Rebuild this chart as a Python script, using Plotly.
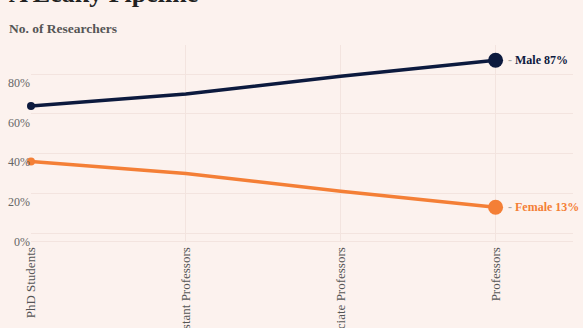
import plotly.graph_objects as go

categories = ["PhD Students", "Assistant Professors", "Associate Professors", "Professors"]
male = [64, 70, 79, 87]
female = [36, 30, 21, 13]
y_ticks = [0, 20, 40, 60, 80]
y_ticktext = [f"{v}%" for v in y_ticks]

BG = "#fcf2ee"
NAVY = "#0c1a3e"
ORANGE = "#f47f36"
FONT = "Liberation Serif"

x_idx = list(range(len(categories)))

fig = go.Figure()
for vals, col, name in [(male, NAVY, "Male"), (female, ORANGE, "Female")]:
    sizes = [8] + [0] * (len(vals) - 2) + [15]
    fig.add_trace(go.Scatter(
        x=x_idx, y=vals, mode="lines+markers", name=name,
        line=dict(color=col, width=3.5),
        marker=dict(size=sizes, color=col, opacity=1, line=dict(width=0)),
        cliponaxis=False,
        showlegend=False, hoverinfo="skip",
    ))
    fig.add_annotation(
        x=x_idx[-1], y=vals[-1], xref="x", yref="y",
        text=f"<span style='color:#aaaaaa'>-</span> {name} {vals[-1]}%",
        showarrow=False, xanchor="left", yanchor="middle", xshift=10,
        font=dict(family=FONT, size=12, color=col, weight="bold"),
    )

fig.add_annotation(
    x=0, y=1, xref="paper", yref="paper", xanchor="left", yanchor="bottom",
    text="<b>A Leaky Pipeline</b>", showarrow=False, xshift=-24, yshift=35,
    font=dict(family=FONT, size=26, color="#222222"),
)
fig.add_annotation(
    x=0, y=1, xref="paper", yref="paper", xanchor="left", yanchor="bottom",
    text="<b>No. of Researchers</b>", showarrow=False, xshift=-24, yshift=7,
    font=dict(family=FONT, size=13.5, color="#555555"),
)

fig.update_layout(
    width=583, height=328,
    margin=dict(l=31, r=10, t=45, b=87),
    paper_bgcolor=BG, plot_bgcolor=BG,
    xaxis=dict(
        tickmode="array", tickvals=x_idx, ticktext=categories,
        range=[0, 3.5], tickangle=-90, showgrid=True,
        gridcolor="#f3e4df", zeroline=False, showline=True, linecolor="#f3e4df",
        tickfont=dict(family=FONT, size=13, color="#555555"),
        automargin=False,
    ),
    yaxis=dict(
        tickmode="array", tickvals=y_ticks, ticktext=y_ticktext, range=[-4, 94.7],
        showgrid=True, gridcolor="#f3e4df", zeroline=False,
        ticklabelposition="outside bottom",
        tickfont=dict(family=FONT, size=12, color="#666666"),
        automargin=False,
    ),
)

fig.write_html("out.html")
